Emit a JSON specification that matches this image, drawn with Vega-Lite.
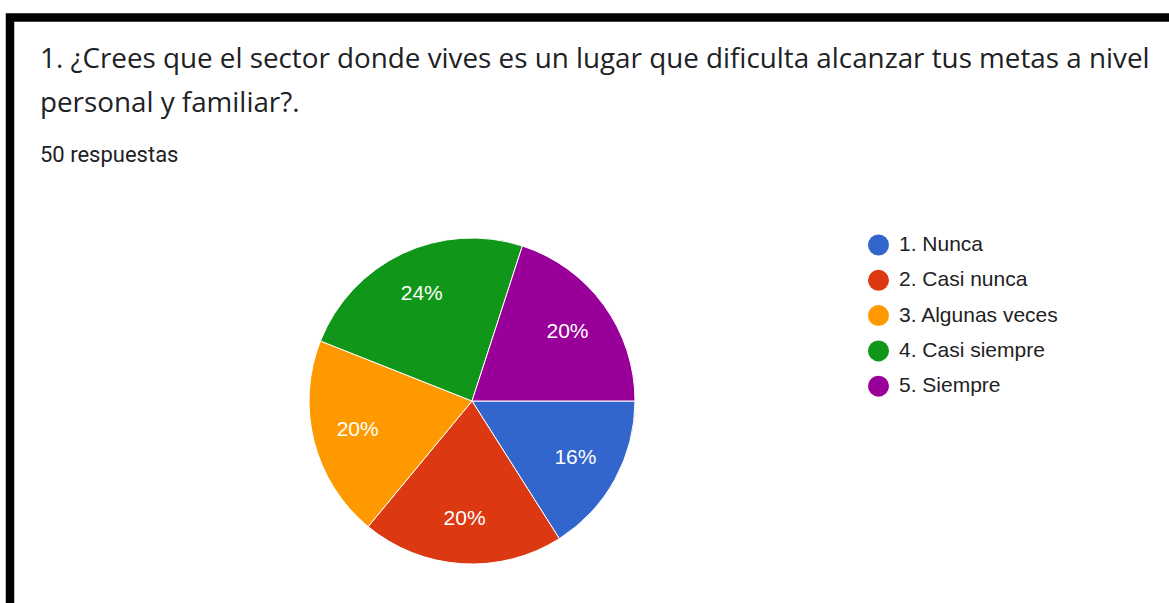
{
  "$schema": "https://vega.github.io/schema/vega-lite/v6.json",
  "width": 320,
  "height": 320,
  "autosize": {"type": "none"},
  "padding": {"left": 312, "top": 241, "right": 537, "bottom": 42},
  "background": "white",
  "title": {
    "text": ["1. ¿Crees que el sector donde vives es un lugar que dificulta alcanzar tus metas a nivel", "personal y familiar?."],
    "subtitle": "50 respuestas",
    "anchor": "start",
    "frame": "group",
    "orient": "top",
    "offset": -153,
    "dx": -272,
    "font": "Open Sans",
    "fontSize": 27.8,
    "fontWeight": "normal",
    "lineHeight": 44,
    "color": "#202124",
    "subtitleFont": "Roboto",
    "subtitleFontSize": 22,
    "subtitleColor": "#202124",
    "subtitlePadding": 27.5
  },
  "data": {
    "values": [
      {"idx": 1, "respuesta": "1. Nunca", "pct": 16, "txt": "16%"},
      {"idx": 2, "respuesta": "2. Casi nunca", "pct": 20, "txt": "20%"},
      {"idx": 3, "respuesta": "3. Algunas veces", "pct": 20, "txt": "20%"},
      {"idx": 4, "respuesta": "4. Casi siempre", "pct": 24, "txt": "24%"},
      {"idx": 5, "respuesta": "5. Siempre", "pct": 20, "txt": "20%"}
    ]
  },
  "layer": [
    {
      "mark": {"type": "arc", "radius": 163, "stroke": "white", "strokeWidth": 1},
      "encoding": {
        "theta": {"field": "pct", "type": "quantitative", "stack": true, "scale": {"range": [1.5707963, 7.8539816]}},
        "order": {"field": "idx", "type": "quantitative"},
        "color": {
          "field": "respuesta",
          "type": "nominal",
          "scale": {
            "domain": ["1. Nunca", "2. Casi nunca", "3. Algunas veces", "4. Casi siempre", "5. Siempre"],
            "range": ["#3366cc", "#dc3912", "#ff9900", "#109618", "#990099"]
          },
          "legend": {
            "orient": "none",
            "legendX": -302,
            "legendY": -223.5,
            "title": " ",
            "titleOrient": "left",
            "titleFontSize": 1,
            "titlePadding": 641,
            "padding": 217,
            "symbolType": "circle",
            "symbolSize": 441,
            "symbolStrokeWidth": 0,
            "symbolOpacity": 1,
            "labelFont": "Liberation Sans",
            "labelFontSize": 21,
            "labelColor": "#222222",
            "labelOffset": 10,
            "labelLimit": 400,
            "rowPadding": 13.3,
            "strokeColor": "black"
          }
        }
      }
    },
    {
      "mark": {"type": "text", "radius": 118, "fill": "white", "font": "Liberation Sans", "fontSize": 21},
      "encoding": {
        "theta": {"field": "pct", "type": "quantitative", "stack": true},
        "order": {"field": "idx", "type": "quantitative"},
        "text": {"field": "txt", "type": "nominal"}
      }
    }
  ],
  "config": {
    "view": {"stroke": null},
    "legend": {"strokeWidth": 8.5, "fillColor": null}
  }
}
